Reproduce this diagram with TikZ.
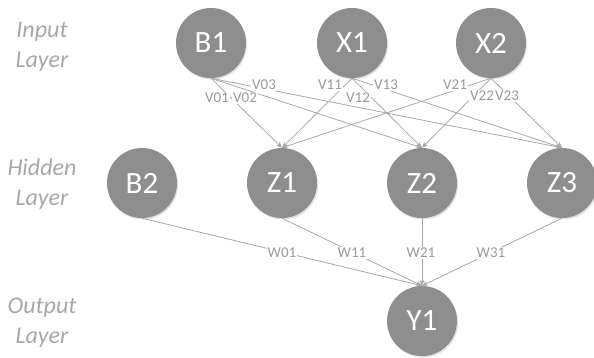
\documentclass[tikz,border=0pt]{standalone}
\usepackage{fontspec}
\setmainfont{Carlito}
\usetikzlibrary{arrows.meta,shadows}
\definecolor{nodegray}{HTML}{8E8E8E}
\definecolor{linegray}{HTML}{A8A8A8}
\definecolor{labgray}{HTML}{9A9A9A}
\definecolor{laygray}{HTML}{A8A8A8}
\tikzset{
  neuron/.style={circle, fill=nodegray, minimum size=70pt, inner sep=0pt, text=white,
    font=\fontsize{31}{31}\selectfont,
    drop shadow={opacity=0.25, shadow xshift=1pt, shadow yshift=-1.5pt}},
  conn/.style={draw=linegray, line width=0.8pt, -{Stealth[length=6pt,width=5pt]}},
  wlab/.style={fill=white, inner sep=1pt, text=labgray, font=\fontsize{15}{15}\selectfont},
  layerlab/.style={text=laygray, font=\fontsize{24}{24}\selectfont\itshape, anchor=base, inner sep=0pt}
}
\begin{document}
\begin{tikzpicture}[x=1pt,y=-1pt]
\useasboundingbox (0,0) rectangle (594,358);
% layer labels
\node[layerlab] (in1) at (42,38) {Input};
\node[layerlab] (in2) at (42,68) {Layer};
\node[layerlab] (hi1) at (42,176) {Hidden};
\node[layerlab] (hi2) at (42,206) {Layer};
\node[layerlab] (ou1) at (42,313) {Output};
\node[layerlab] (ou2) at (42,343) {Layer};
% neurons
\node[neuron] (B1) at (211,43) {B1};
\node[neuron] (X1) at (352,43) {X1};
\node[neuron] (X2) at (491,43) {X2};
\node[neuron] (B2) at (142,183) {B2};
\node[neuron] (Z1) at (282,183) {Z1};
\node[neuron] (Z2) at (422,183) {Z2};
\node[neuron] (Z3) at (562,183) {Z3};
\node[neuron] (Y1) at (422,321) {Y1};
% connectors input -> hidden
\foreach \s in {B1,X1,X2}{
  \foreach \t in {Z1,Z2,Z3}{
    \draw[conn] (\s.south) -- (\t.north);
  }
}
% connectors hidden -> output
\foreach \s in {B2,Z1,Z2,Z3}{
  \draw[conn] (\s.south) -- (Y1.north);
}
% weight labels
\node[wlab] (v01) at (217,98) {V01};
\node[wlab] (v02) at (245,98) {V02};
\node[wlab] (v03) at (264,85) {V03};
\node[wlab] (v11) at (330,85) {V11};
\node[wlab] (v12) at (358,98) {V12};
\node[wlab] (v13) at (386,85) {V13};
\node[wlab] (v21) at (455,85) {V21};
\node[wlab] (v22) at (482,96) {V22};
\node[wlab] (v23) at (507,96) {V23};
\node[wlab] (w01) at (282,253) {W01};
\node[wlab] (w11) at (352,253) {W11};
\node[wlab] (w21) at (421,253) {W21};
\node[wlab] (w31) at (491,253) {W31};
\end{tikzpicture}
\end{document}
